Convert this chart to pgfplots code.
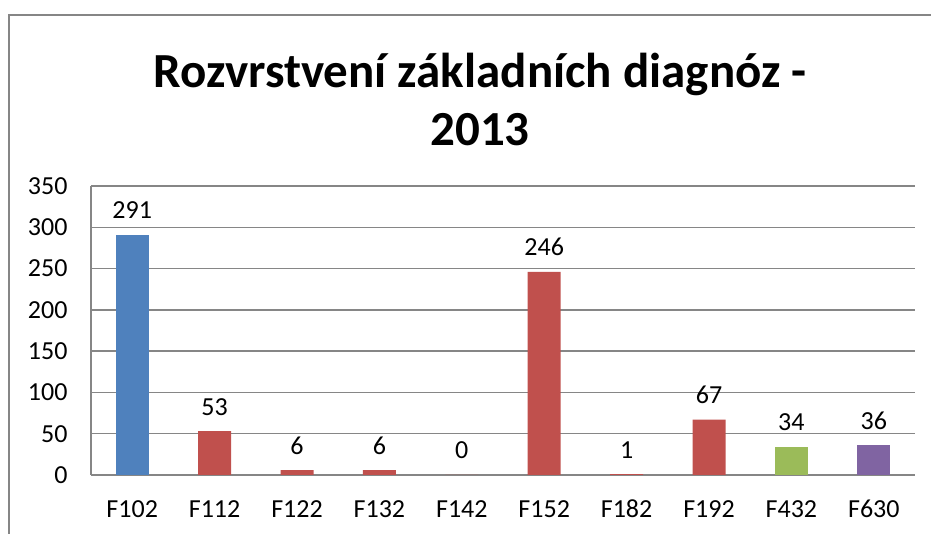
\documentclass[border=0pt]{standalone}
\usepackage{pgfplots}
\pgfplotsset{compat=1.18}
\usepackage{fontspec}
\setmainfont{Carlito}
\definecolor{cblue}{HTML}{4F81BD}
\definecolor{cred}{HTML}{C0504D}
\definecolor{cgreen}{HTML}{9BBB59}
\definecolor{cpurple}{HTML}{8064A2}
\definecolor{cgrid}{HTML}{868686}
\begin{document}
\begin{tikzpicture}[x=1pt,y=1pt]
\useasboundingbox (0,0) rectangle (931,534);
\draw[cgrid, line width=1.6pt] (9,-20) -- (9,519) -- (950,519);
\node[font=\fontsize{49}{58}\selectfont\bfseries, align=center] at (480,435) {Rozvrstvení základních diagnóz -\\2013};
\begin{axis}[
  at={(91pt,59pt)}, anchor=south west,
  scale only axis, width=824pt, height=289pt,
  ymin=0, ymax=350, ytick={0,50,...,350},
  xmin=-0.5, xmax=9.5,
  xtick={0,...,9},
  xticklabels={F102,F112,F122,F132,F142,F152,F182,F192,F432,F630},
  ybar, bar width=33pt, bar shift=0pt,
  ymajorgrids, grid style={cgrid, line width=1.3pt},
  axis line style={cgrid, line width=1.3pt},
  axis x line*=bottom, axis y line*=left,
  major tick length=0pt,
  tick label style={font=\fontsize{26}{30}\selectfont},
  /pgf/number format/assume math mode=true,
  yticklabel style={xshift=-20pt},
  xticklabel style={anchor=base, yshift=-43pt},
  nodes near coords,
  every node near coord/.append style={font=\fontsize{26}{30}\selectfont, black, anchor=base, yshift=16pt},
  clip=false,
]
\addplot[fill=cblue, draw=none] coordinates {(0,291)};
\addplot[fill=cred, draw=none] coordinates {(1,53) (2,6) (3,6) (4,0) (5,246) (6,1) (7,67)};
\addplot[fill=cgreen, draw=none] coordinates {(8,34)};
\addplot[fill=cpurple, draw=none] coordinates {(9,36)};
\end{axis}
\end{tikzpicture}
\end{document}
